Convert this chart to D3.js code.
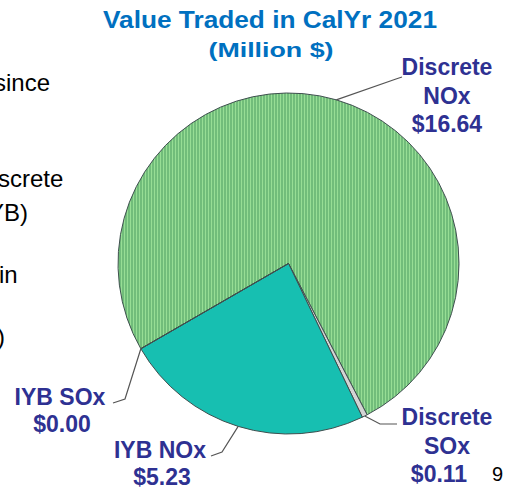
<!DOCTYPE html>
<html>
<head>
<meta charset="utf-8">
<script src="https://cdn.jsdelivr.net/npm/d3@7"></script>
<style>
  body { margin: 0; background: #fff; }
  svg { display: block; }
</style>
</head>
<body>
<div id="chart"></div>
<script>
///////////////////////////
// DATA
///////////////////////////

const categories = ['Discrete NOx', 'Discrete SOx', 'IYB NOx', 'IYB SOx'];
const values = [16.64, 0.11, 5.23, 0.00];
const valueLabels = ['$16.64', '$0.11', '$5.23', '$0.00'];
const nameLines = [['Discrete', 'NOx'], ['Discrete', 'SOx'], ['IYB NOx'], ['IYB SOx']];
const sideText = ['since', 'screte', 'YB)', 'in', ')'];

///////////////////////////
// SETUP
///////////////////////////

const width = 507;
const height = 489;
const cx = 288.5;
const cy = 263.5;
const radius = 170.5;
const labelColor = '#2e3192';

let svg = d3.select('#chart')
    .append('svg')
    .attr('width', width)
    .attr('height', height);

// striped green fill
let defs = svg.append('defs');
let stripes = defs.append('pattern')
    .attr('id', 'stripes')
    .attr('patternUnits', 'userSpaceOnUse')
    .attr('width', 3)
    .attr('height', 10);
stripes.append('rect').attr('width', 3).attr('height', 10).attr('fill', '#97de95');
stripes.append('rect').attr('x', 2).attr('width', 1).attr('height', 10).attr('fill', '#4b9c60');

const fills = ['url(#stripes)', '#d4d4d4', '#17bfb1', '#97de95'];

// left side slide text (cut off at the edge, as in the slide)
const sideX = [-6, -2, -12, -1, -3];
const sideY = [91, 187, 221, 283, 345];
svg.selectAll('.side')
    .data(sideText)
    .enter().append('text')
    .attr('class', 'side')
    .attr('x', (d, i) => sideX[i])
    .attr('y', (d, i) => sideY[i])
    .attr('font-family', 'Liberation Sans, Arial, sans-serif')
    .attr('font-size', 24)
    .attr('fill', '#000')
    .text(d => d);

// title
svg.append('text')
    .attr('x', 270).attr('y', 28)
    .attr('text-anchor', 'middle')
    .attr('font-family', 'Liberation Sans, Arial, sans-serif')
    .attr('font-weight', 'bold')
    .attr('font-size', 23)
    .attr('fill', '#0070c0')
    .attr('textLength', 334)
    .attr('lengthAdjust', 'spacingAndGlyphs')
    .text('Value Traded in CalYr 2021');

svg.append('text')
    .attr('x', 271).attr('y', 57)
    .attr('text-anchor', 'middle')
    .attr('font-family', 'Liberation Sans, Arial, sans-serif')
    .attr('font-weight', 'bold')
    .attr('font-size', 20)
    .attr('fill', '#0070c0')
    .attr('textLength', 125)
    .attr('lengthAdjust', 'spacingAndGlyphs')
    .text('(Million $)');

///////////////////////////
// PIE
///////////////////////////

const pie = d3.pie()
    .sort(null)
    .value(d => d)
    .startAngle(-120 * Math.PI / 180)
    .endAngle(240 * Math.PI / 180);

const arcs = pie(values);
const arc = d3.arc().innerRadius(0).outerRadius(radius);

let g = svg.append('g').attr('transform', `translate(${cx},${cy})`);

g.selectAll('.slice')
    .data(arcs)
    .enter().append('path')
    .attr('class', 'slice')
    .attr('d', arc)
    .attr('fill', (d, i) => fills[i])
    .attr('stroke', '#3f4f4f')
    .attr('stroke-width', 1)
    .attr('stroke-linejoin', 'round');

///////////////////////////
// LABELS
///////////////////////////

// elbow and end of each leader line, then label anchor
const leaderElbow = [[396, 79], [380, 424], [222, 452], [125, 399]];
const leaderEnd = [[402, 77], [397, 424], [211, 456], [113, 403]];
const labelX = [447, 447, 160, 60];
const labelY = [75, 425, 458, 405];
const valueX = [447, 439, 162, 62];

const edgePoint = (d) => {
    let a = (d.startAngle + d.endAngle) / 2;
    return [cx + radius * Math.sin(a), cy - radius * Math.cos(a)];
};

svg.selectAll('.leader')
    .data(arcs)
    .enter().append('polyline')
    .attr('class', 'leader')
    .attr('points', (d, i) => [edgePoint(d), leaderElbow[i], leaderEnd[i]].map(p => p.join(',')).join(' '))
    .attr('fill', 'none')
    .attr('stroke', '#555')
    .attr('stroke-width', 1.2);

let labels = svg.selectAll('.label')
    .data(arcs)
    .enter().append('text')
    .attr('class', 'label')
    .attr('text-anchor', 'middle')
    .attr('font-family', 'Liberation Sans, Arial, sans-serif')
    .attr('font-weight', 'bold')
    .attr('font-size', 23)
    .attr('fill', labelColor);

labels.each(function (d, i) {
    let t = d3.select(this);
    let lines = nameLines[i];
    lines.forEach((line, k) => {
        t.append('tspan')
            .attr('x', labelX[i])
            .attr('y', labelY[i] + k * 28.5)
            .text(line);
    });
    t.append('tspan')
        .attr('x', valueX[i])
        .attr('y', labelY[i] + lines.length * 28.5 - (lines.length === 1 ? 2 : 0))
        .text(valueLabels[i]);
});

// page number
svg.append('text')
    .attr('x', 492).attr('y', 481)
    .attr('font-family', 'Liberation Sans, Arial, sans-serif')
    .attr('font-size', 20)
    .attr('fill', '#000')
    .text('9');
</script>
</body>
</html>
